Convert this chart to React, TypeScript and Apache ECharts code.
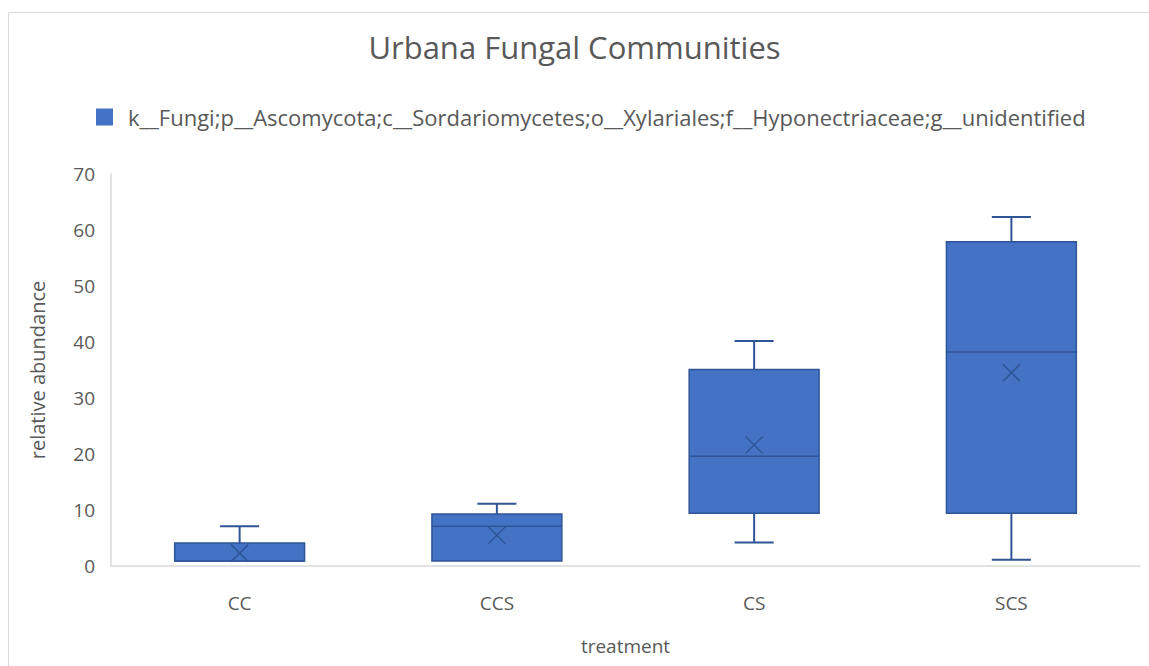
import React, { useEffect, useRef } from "react";
import * as echarts from "echarts";

const categories = ["CC", "CCS", "CS", "SCS"];
// [min, q1, median, q3, max]
const boxValues = [
  [0.9, 0.9, 0.9, 4.1, 7.1],
  [0.9, 0.9, 7.1, 9.3, 11.1],
  [4.2, 9.4, 19.6, 35.1, 40.2],
  [1.1, 9.4, 38.2, 57.9, 62.3],
];
const meanValues = [2.3, 5.5, 21.6, 34.5];
const yTicks = [0, 10, 20, 30, 40, 50, 60, 70];
const seriesName =
  "k__Fungi;p__Ascomycota;c__Sordariomycetes;o__Xylariales;f__Hyponectriaceae;g__unidentified";

const FILL = "#4472C4";
const EDGE = "#2F5597";
const FONT = "'Open Sans', sans-serif";

export default function App() {
  const ref = useRef<HTMLDivElement>(null);
  useEffect(() => {
    if (!ref.current) return;
    const chart = echarts.init(ref.current, undefined, { renderer: "svg" });
    const data = categories.map((c, i) => [i, ...boxValues[i], meanValues[i]]);
    const option: any = {
      animation: false,
      backgroundColor: "#ffffff",
      title: {
        text: "Urbana Fungal Communities",
        left: "center",
        top: 26,
        textStyle: { fontFamily: FONT, fontSize: 31, fontWeight: "normal", color: "#595959" },
      },
      legend: {
        top: 101,
        left: 91,
        itemWidth: 17,
        itemHeight: 17,
        icon: "rect",
        textStyle: { fontFamily: FONT, fontSize: 22, color: "#595959", padding: [0, 0, 0, 10] },
        data: [seriesName],
      },
      grid: { left: 111, right: 9, top: 174, bottom: 100 },
      xAxis: {
        type: "category",
        data: categories,
        name: "treatment",
        nameLocation: "middle",
        nameGap: 70,
        nameTextStyle: { fontFamily: FONT, fontSize: 19, color: "#595959" },
        axisLine: { lineStyle: { color: "#d9d9d9", width: 1.5 } },
        axisTick: { show: false },
        axisLabel: { fontFamily: FONT, fontSize: 19, color: "#595959", margin: 27 },
      },
      yAxis: {
        type: "value",
        min: 0,
        max: 70,
        interval: 10,
        name: "relative abundance",
        nameLocation: "middle",
        nameGap: 64,
        nameTextStyle: { fontFamily: FONT, fontSize: 20, color: "#595959" },
        axisLine: { show: true, lineStyle: { color: "#d9d9d9", width: 1.5 } },
        axisTick: { show: false },
        splitLine: { show: false },
        axisLabel: { fontFamily: FONT, fontSize: 19, color: "#595959", margin: 16 },
      },
      graphic: [
        {
          type: "rect",
          shape: { x: 8.5, y: 12.5, width: 1160, height: 680 },
          style: { fill: "none", stroke: "#d9d9d9", lineWidth: 1 },
          silent: true,
        },
      ],
      series: [
        {
          name: seriesName,
          type: "custom",
          itemStyle: { color: FILL },
          data,
          encode: { x: 0, y: [1, 2, 3, 4, 5] },
          renderItem: (params: any, api: any) => {
            const idx = api.value(0);
            const mn = api.value(1), q1 = api.value(2), md = api.value(3), q3 = api.value(4), mx = api.value(5), mean = api.value(6);
            const band = api.size([1, 0])[0];
            const boxW = band * 0.505;
            const capW = band * 0.152;
            const pMin = api.coord([idx, mn]);
            const pQ1 = api.coord([idx, q1]);
            const pMd = api.coord([idx, md]);
            const pQ3 = api.coord([idx, q3]);
            const pMx = api.coord([idx, mx]);
            const pMean = api.coord([idx, mean]);
            const cx = pQ1[0];
            const lineStyle = { stroke: EDGE, lineWidth: 2 };
            const children: any[] = [];
            if (mx > q3) {
              children.push({ type: "line", shape: { x1: cx, y1: pQ3[1], x2: cx, y2: pMx[1] }, style: lineStyle });
              children.push({ type: "line", shape: { x1: cx - capW / 2, y1: pMx[1], x2: cx + capW / 2, y2: pMx[1] }, style: lineStyle });
            }
            if (mn < q1) {
              children.push({ type: "line", shape: { x1: cx, y1: pQ1[1], x2: cx, y2: pMin[1] }, style: lineStyle });
              children.push({ type: "line", shape: { x1: cx - capW / 2, y1: pMin[1], x2: cx + capW / 2, y2: pMin[1] }, style: lineStyle });
            }
            children.push({
              type: "rect",
              shape: { x: cx - boxW / 2, y: pQ3[1], width: boxW, height: pQ1[1] - pQ3[1] },
              style: { fill: FILL, stroke: EDGE, lineWidth: 1.5 },
            });
            children.push({
              type: "line",
              shape: { x1: cx - boxW / 2, y1: pMd[1], x2: cx + boxW / 2, y2: pMd[1] },
              style: { stroke: EDGE, lineWidth: 1.5 },
            });
            const s = 8.5;
            children.push({ type: "line", shape: { x1: pMean[0] - s, y1: pMean[1] - s, x2: pMean[0] + s, y2: pMean[1] + s }, style: { stroke: EDGE, lineWidth: 1.5 } });
            children.push({ type: "line", shape: { x1: pMean[0] - s, y1: pMean[1] + s, x2: pMean[0] + s, y2: pMean[1] - s }, style: { stroke: EDGE, lineWidth: 1.5 } });
            return { type: "group", children };
          },
        },
      ],
    };
    chart.setOption(option);
    return () => chart.dispose();
  }, []);
  return (
    <div
      ref={ref}
      style={{ position: "absolute", left: 0, top: 0, width: 1149, height: 666 }}
    />
  );
}
